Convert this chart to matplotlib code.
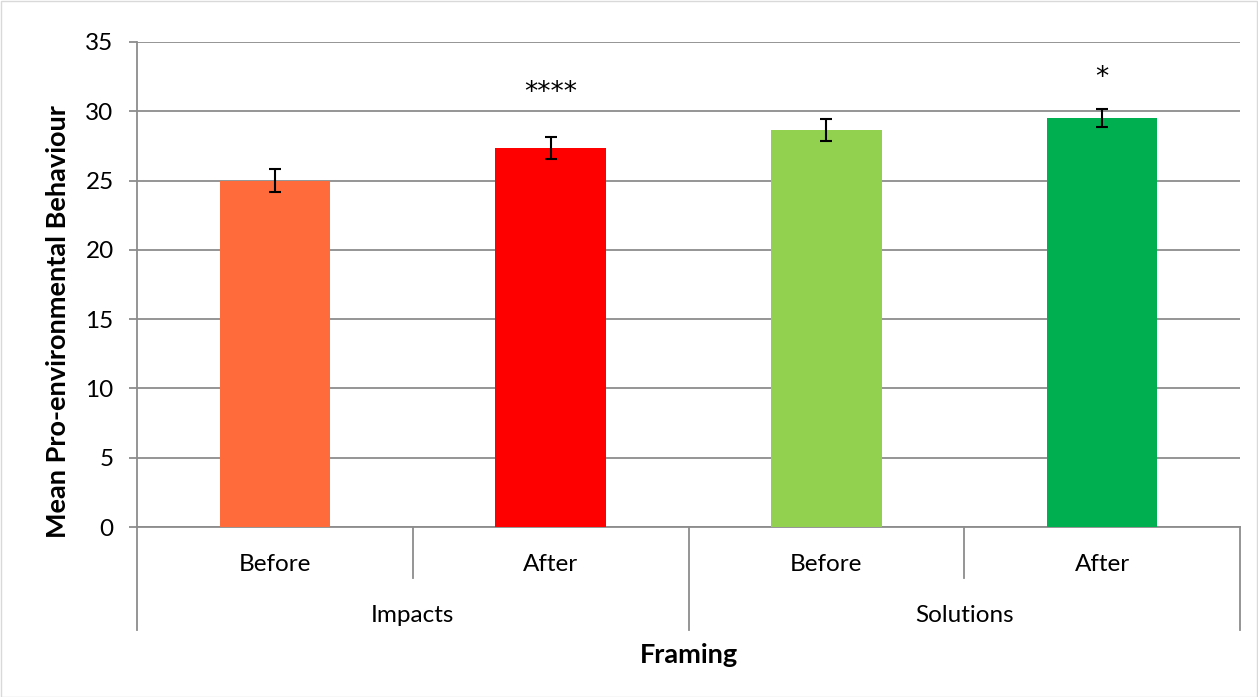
import matplotlib
matplotlib.use("Agg")
import matplotlib.pyplot as plt
from matplotlib.patches import Rectangle
import matplotlib.transforms as mtransforms

plt.rcParams['font.family'] = ['Lato', 'DejaVu Sans']

# Data
groups = ["Impacts", "Solutions"]
timepoints = ["Before", "After", "Before", "After"]
means = [25.0, 27.35, 28.65, 29.5]
errors = [0.8, 0.82, 0.8, 0.66]
colors = ["#FF6B3A", "#FF0000", "#92D050", "#00B050"]
sig_labels = ["", "****", "", "*"]
sig_heights = [0, 31.3, 0, 32.4]
yticks = [0, 5, 10, 15, 20, 25, 30, 35]

W, H = 1258, 697
fig = plt.figure(figsize=(W / 100, H / 100), dpi=100)
fig.patches.append(Rectangle((0.5 / W, 0.5 / H), 1 - 1.5 / W, 1 - 1.5 / H,
                             transform=fig.transFigure, fill=False,
                             edgecolor="#D9D9D9", linewidth=1.0))

ax = fig.add_axes([137 / W, 1 - 527 / H, (1240 - 137) / W, (527 - 42) / H])

grid_c = "#8C8C8C"
tick_fs = 17.5
label_fs = 19.5
x = list(range(len(means)))
ax.bar(x, means, width=0.40, color=colors, zorder=3)
ax.errorbar(x, means, yerr=errors, fmt="none", ecolor="black",
            elinewidth=1.5, capsize=4.5, capthick=1.5, zorder=4)

for xi, lab, yh in zip(x, sig_labels, sig_heights):
    if lab:
        ax.text(xi, yh, lab, ha="center", va="center", fontsize=19,
                family="DejaVu Sans")

ax.set_xlim(-0.5, len(means) - 0.5)
ax.set_ylim(0, 35)
ax.set_yticks(yticks)
ax.set_yticklabels([str(t) for t in yticks], fontsize=tick_fs)
ax.yaxis.grid(True, color=grid_c, linewidth=1.3, zorder=0)
ax.set_axisbelow(True)
ax.tick_params(axis="y", length=5.8, width=1.3, color=grid_c, pad=11)
ax.set_xticks([])
for s in ["top", "right"]:
    ax.spines[s].set_visible(False)
ax.spines["left"].set_color(grid_c)
ax.spines["left"].set_linewidth(1.3)
ax.spines["bottom"].set_color(grid_c)
ax.spines["bottom"].set_linewidth(1.3)

fig.text(58 / W, 1 - 322 / H, "Mean Pro-environmental Behaviour",
         rotation=90, ha="center", va="center", fontsize=label_fs,
         fontweight="bold")

# Two-level category axis
trans = mtransforms.blended_transform_factory(ax.transData, ax.transAxes)
short_y = -0.105
long_y = -0.212
for xs in [0.5, 2.5]:
    ax.plot([xs, xs], [0, short_y], transform=trans, color=grid_c,
            linewidth=1.3, clip_on=False)
for xs in [-0.5, 1.5, 3.5]:
    ax.plot([xs, xs], [0, long_y], transform=trans, color=grid_c,
            linewidth=1.3, clip_on=False)
for xi, lab in zip(x, timepoints):
    ax.text(xi, -0.078, lab, transform=trans, ha="center", va="center",
            fontsize=tick_fs)
for gi, g in enumerate(groups):
    ax.text(2 * gi + 0.5, -0.183, g, transform=trans, ha="center",
            va="center", fontsize=tick_fs)

fig.text(689 / W, 1 - 655 / H, "Framing", ha="center", va="center",
         fontsize=label_fs, fontweight="bold")

fig.savefig("out.png", dpi=100)
